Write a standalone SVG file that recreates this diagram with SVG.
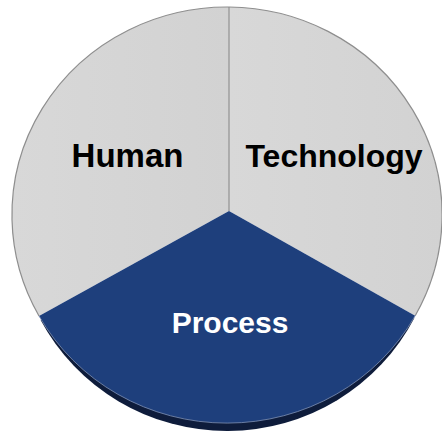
<svg xmlns="http://www.w3.org/2000/svg" width="442" height="433" viewBox="0 0 442 433">
  <defs>
    <linearGradient id="greyGrad" x1="0" y1="0" x2="1" y2="0">
      <stop offset="0" stop-color="#d8d8d8"/>
      <stop offset="1" stop-color="#d2d2d2"/>
    </linearGradient>
    <style>
      .grey { fill: url(#greyGrad); }
      .blue { fill: #1e3f7c; }
      .shadow { fill: #0e1c3b; }
      .rim { fill: none; stroke: #8e8e8e; stroke-width: 1.2; }
      .rimBlue { fill: none; stroke: #7f90b4; stroke-width: 0.8; }
      .divider { stroke: #8a8a8a; stroke-width: 1.1; fill: none; }
      .label { font-family: "Liberation Sans", Arial, sans-serif; font-weight: bold; text-anchor: middle; }
      .dark { fill: #000000; }
      .light { fill: #ffffff; }
    </style>
  </defs>
  <rect width="442" height="433" fill="#ffffff"/>

  <g id="process-shadow">
    <path class="shadow" d="M229,215 L40.6,320 A211,209 0 0,0 414.4,318 Z"/>
  </g>

  <g id="human">
    <path class="grey" d="M229,211 L229,7 A215,208 0 0,0 39,316 Z"/>
    <path class="rim" d="M229,7 A215,208 0 0,0 39,316"/>
    <text class="label dark" x="127.5" y="167" font-size="33">Human</text>
  </g>

  <g id="technology">
    <path class="grey" d="M229,211 L229,7 A215,208 0 0,1 415.2,315.7 Z"/>
    <path class="rim" d="M229,7 A215,208 0 0,1 415.2,315.7"/>
    <text class="label dark" x="334" y="167" font-size="32">Technology</text>
  </g>

  <g id="process">
    <path class="blue" d="M229,211 L39,316 A215,208 0 0,0 415.2,315.7 Z"/>
    <path class="rimBlue" d="M39,316 A215,208 0 0,0 415.2,315.7"/>
    <text class="label light" x="230" y="333" font-size="30">Process</text>
  </g>

  <g id="connectors">
    <line class="divider" x1="229" y1="211" x2="229" y2="7"/>
  </g>
</svg>
